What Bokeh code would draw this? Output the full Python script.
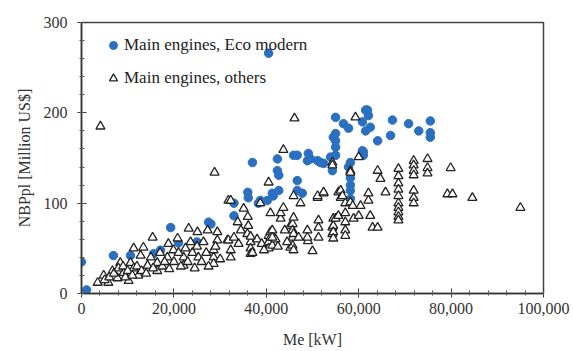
from bokeh.plotting import figure
from bokeh.models import Range1d, SingleIntervalTicker, NumeralTickFormatter, Legend, LegendItem
from bokeh.embed import file_html
from bokeh.resources import INLINE

# Main engines, Eco modern
eco_me = [0, 1100, 6900, 10600, 15600, 17100, 19300, 21000, 25000, 27500,
          28000, 33000, 33000, 36000, 36100, 37000, 38300, 38700, 40200, 40500,
          41300, 41500, 42400, 42400, 42700, 42700, 45900, 46700, 46700, 46700,
          47800, 48900, 49100, 49600, 51100, 51700, 52400, 53900, 54300, 54500,
          55000, 55000, 55000, 55000, 55000, 56700, 57800, 57800, 58200, 58200,
          58200, 58200, 58200, 60800, 60800, 61000, 61000, 61500, 61500, 61900,
          62100, 62500, 64100, 66900, 67300, 70800, 73000, 75500, 75500, 75500]
eco_nbp = [35, 4, 42, 42, 44, 48, 73, 56, 57, 79,
           77, 100, 86, 112, 106, 145, 100, 103, 103, 266,
           111, 108, 149, 136, 131, 114, 153, 153, 125, 114,
           111, 147, 155, 149, 147, 145, 144, 151, 136, 173,
           195, 177, 169, 162, 153, 188, 183, 140, 145, 128,
           120, 114, 105, 190, 158, 153, 157, 203, 180, 203,
           197, 184, 169, 175, 192, 188, 180, 191, 178, 173]

# Main engines, others
oth_me = [3500, 4100, 4800, 5800, 6700, 7800, 8400, 9100, 10200, 10600,
          11300, 11300, 12300, 12800, 13400, 14300, 15400, 16400, 16400, 18600,
          18800, 19900, 20800, 22100, 22100, 23200, 23600, 25100, 25300, 26400,
          27300, 28600, 28600, 28600, 28800, 29400, 29400,
          5000, 6000, 7000, 8000, 9000, 9500, 10000, 11000, 12000, 13000,
          14000, 15000, 15500, 17000, 17500, 18000, 19000, 20000, 21000, 21500,
          22500, 23000, 24000, 24500, 25000, 26000, 27000, 27500, 29000, 30000,
          31600, 31800, 31800, 32300, 32300, 32300, 33800, 35100, 35900, 36100,
          36600, 36600, 36600, 38700, 40500, 40500, 40500, 40500, 40900, 40900,
          40900, 41300, 41300, 43100, 43100, 43700, 43700, 45200, 45200, 45700,
          45700, 45700, 45700, 45900, 45900, 45900, 45900, 46100, 47400, 48900,
          37000, 38000, 39000, 34000, 42000, 44000, 47000, 49000,
          33000, 34500, 36000, 36600, 39500, 41300, 42500, 44500, 48900, 50000,
          51100, 51100, 51300, 51300, 51300, 52400, 52400, 54300, 54300, 54300,
          54300, 54500, 54500, 54500, 54500, 55000, 55600, 55600, 56100, 56100,
          56500, 57100, 57100, 57100, 57100, 57100, 58200, 58200, 58200, 58700,
          58900, 59300, 60000, 60000, 60400, 62100, 62100, 62500, 63000, 64100,
          64100, 64700, 65800, 68600, 68600, 68600, 68600, 68600, 68600, 68600,
          68600, 68600, 68600, 71900, 71900, 71900, 71900, 71900, 71900, 71900,
          74900, 74900, 74900, 79200, 80300, 79900, 84600, 95000]
oth_nbp = [12, 185, 20, 12, 25, 17, 34, 23, 14, 34,
           28, 50, 20, 42, 51, 31, 62, 34, 25, 40,
           55, 48, 61, 40, 31, 72, 57, 68, 40, 57,
           70, 48, 40, 33, 134, 68, 59,
           15, 18, 22, 28, 30, 18, 25, 20, 30, 25,
           22, 40, 28, 45, 30, 35, 27, 35, 45, 30,
           50, 35, 45, 28, 52, 35, 45, 30, 52, 38,
           59, 103, 59, 103, 48, 40, 79, 94, 66, 75,
           57, 50, 44, 100, 123, 64, 57, 50, 89, 68,
           62, 70, 53, 83, 89, 95, 159, 75, 51, 77,
           70, 62, 53, 108, 84, 66, 48, 194, 100, 70,
           45, 60, 55, 55, 60, 70, 62, 58,
           62, 70, 85, 63, 48, 62, 52, 57, 62, 47,
           106, 108, 81, 73, 62, 111, 112, 145, 142, 73,
           66, 83, 75, 68, 61, 83, 112, 86, 114, 106,
           108, 100, 89, 79, 70, 64, 136, 134, 101, 97,
           83, 195, 151, 86, 97, 111, 103, 86, 73, 136,
           73, 127, 112, 138, 130, 122, 115, 108, 100, 95,
           90, 85, 81, 147, 142, 136, 131, 114, 106, 100,
           149, 139, 133, 110, 110, 139, 106, 95]

x_ticks_interval = 20000
y_ticks_interval = 100

FONT = "'Liberation Serif', 'Times New Roman', serif"

p = figure(output_backend="svg", toolbar_location=None,
           frame_width=462, frame_height=271,
           min_border_left=81, min_border_top=22, min_border_right=30, min_border_bottom=58,
           x_range=Range1d(0, 100000), y_range=Range1d(0, 300),
           background_fill_color="white", border_fill_color="white")

p.xgrid.visible = False
p.ygrid.visible = False
p.outline_line_color = "#444444"
p.outline_line_width = 1.5

p.xaxis.ticker = SingleIntervalTicker(interval=x_ticks_interval, num_minor_ticks=5)
p.yaxis.ticker = SingleIntervalTicker(interval=y_ticks_interval, num_minor_ticks=5)
p.xaxis.formatter = NumeralTickFormatter(format="0,0")

for ax in (p.xaxis[0], p.yaxis[0]):
    ax.axis_line_color = "#333333"
    ax.axis_line_width = 1.5
    ax.major_tick_line_color = "#333333"
    ax.minor_tick_line_color = "#555555"
    ax.major_tick_in = 5
    ax.major_tick_out = 4
    ax.minor_tick_in = 3
    ax.minor_tick_out = 2
    ax.major_label_text_font = FONT
    ax.major_label_text_font_size = "16px"
    ax.major_label_text_color = "#333333"
    ax.axis_label_text_font = FONT
    ax.axis_label_text_font_size = "16px"
    ax.axis_label_text_font_style = "normal"
    ax.axis_label_text_color = "#333333"

p.xaxis.axis_label = "Me [kW]"
p.xaxis.axis_label_standoff = 14
p.yaxis.axis_label = "NBPpl [Million US$]"
p.yaxis.axis_label_standoff = 8
p.yaxis.major_label_standoff = 10

r_eco = p.scatter(eco_me, eco_nbp, marker="circle", size=8.5,
                  fill_color="#2b70c0", line_color="#2b70c0")
r_oth = p.scatter(oth_me, oth_nbp, marker="triangle", size=9,
                  fill_color="white", line_color="#222222", line_width=1.3)

legend = Legend(items=[LegendItem(label="Main engines, Eco modern", renderers=[r_eco]),
                       LegendItem(label="Main engines, others", renderers=[r_oth])],
                location=(22, 205), margin=0, padding=0, spacing=13,
                glyph_width=20, glyph_height=20, label_height=20, label_standoff=1,
                label_text_font=FONT, label_text_font_size="17px",
                label_text_color="#222222",
                background_fill_alpha=0, border_line_alpha=0)
p.add_layout(legend, "center")

open("out.html", "w").write(file_html(p, INLINE))
